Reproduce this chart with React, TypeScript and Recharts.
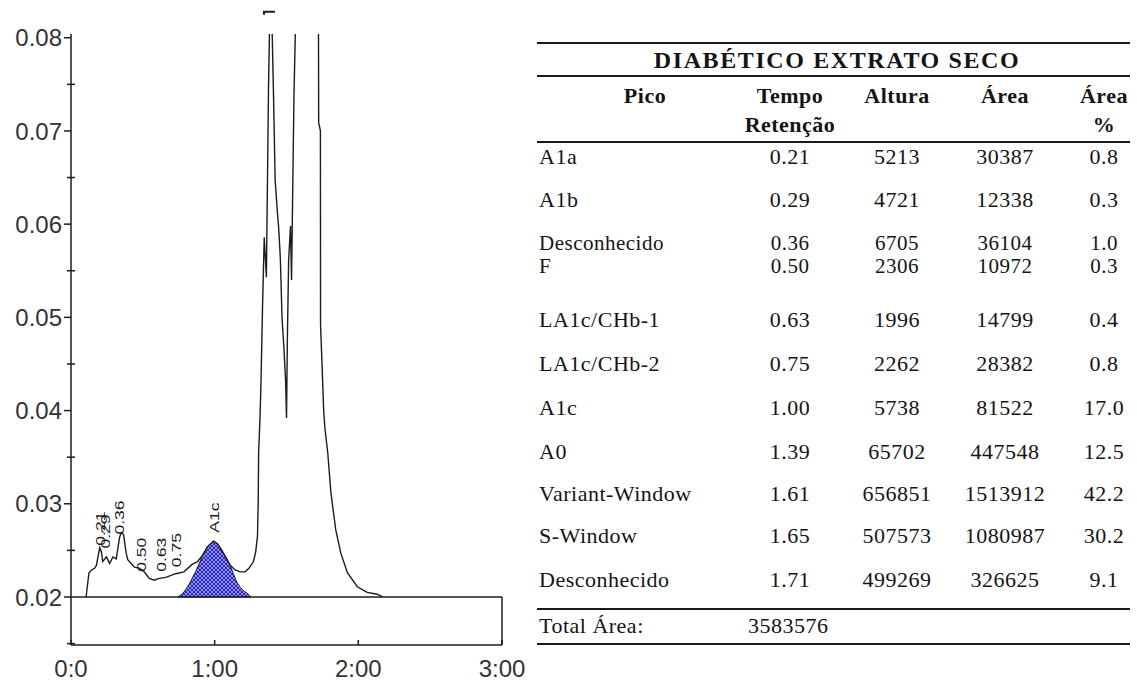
import React from 'react'
import {
  Area,
  ComposedChart,
  Line,
  ReferenceDot,
  ReferenceLine,
  XAxis,
  YAxis,
} from 'recharts'

// chromatogram trace (time in min, absorbance)
const traceTime = [
  0.105, 0.125, 0.143, 0.166, 0.177, 0.2, 0.212, 0.221, 0.246, 0.269, 0.292, 0.315, 0.338, 0.35,
  0.366, 0.384, 0.395, 0.419, 0.441, 0.476, 0.51, 0.545, 0.579, 0.614, 0.66, 0.729, 0.786, 0.843,
  0.88, 0.912, 0.95, 0.993, 1.02, 1.05, 1.08, 1.108, 1.143, 1.177, 1.212, 1.24, 1.27, 1.285, 1.298,
  1.303, 1.306, 1.315, 1.322, 1.333, 1.345, 1.36, 1.375, 1.39, 1.41, 1.421, 1.437, 1.446, 1.457,
  1.469, 1.481, 1.494, 1.5, 1.506, 1.515, 1.528, 1.535, 1.552, 1.561, 1.61, 1.65, 1.71, 1.722,
  1.724, 1.736, 1.737, 1.747, 1.759, 1.768, 1.787, 1.809, 1.843, 1.878, 1.924, 1.993, 2.062, 2.131,
  2.17,
]
const traceSignal = [
  0.0200, 0.0226, 0.0229, 0.0231, 0.0234, 0.0253, 0.0248, 0.0238, 0.0243, 0.0236, 0.0243, 0.0241,
  0.0264, 0.0269, 0.0267, 0.0247, 0.0240, 0.0236, 0.0232, 0.0231, 0.0227, 0.0220, 0.0218, 0.0220,
  0.0221, 0.0225, 0.0227, 0.0235, 0.0238, 0.0244, 0.0254, 0.0260, 0.0257, 0.0250, 0.0242, 0.0234,
  0.0229, 0.0227, 0.0227, 0.0231, 0.0238, 0.0248, 0.0265, 0.0300, 0.0355, 0.0390, 0.0427, 0.0510,
  0.0586, 0.0543, 0.0749, 0.0880, 0.0736, 0.0647, 0.0612, 0.0595, 0.0564, 0.0499, 0.0470, 0.0431,
  0.0392, 0.0476, 0.0562, 0.0598, 0.0540, 0.0738, 0.0802, 0.7000, 0.5400, 0.5200, 0.0850, 0.0709,
  0.0700, 0.0492, 0.0451, 0.0399, 0.0380, 0.0355, 0.0312, 0.0272, 0.0247, 0.0226, 0.0211, 0.0205,
  0.0203, 0.0200,
]

// integrated A1c peak (hatched)
const a1cTime = [
  0.745, 0.78, 0.82, 0.867, 0.912, 0.95, 0.993, 1.02, 1.05, 1.08, 1.108, 1.13, 1.154, 1.18, 1.2,
  1.234, 1.25,
]
const a1cSignal = [
  0.0200, 0.0204, 0.0213, 0.0227, 0.0243, 0.0254, 0.0260, 0.0257, 0.0250, 0.0242, 0.0234, 0.0225,
  0.0216, 0.0210, 0.0207, 0.0203, 0.0200,
]

const peakLabels = ['0.21', '0.29', '0.36', '0.50', '0.63', '0.75', 'A1c']
const peakLabelTime = [0.2, 0.239, 0.338, 0.487, 0.625, 0.73, 1.0]
const peakLabelSignal = [0.0255, 0.0252, 0.0267, 0.0227, 0.0227, 0.0232, 0.0269]

// off-scale marker above the A0 peak
const offScaleTime = 1.385
const offScaleSignal = 0.0828

const yMajorTicks = [0.02, 0.03, 0.04, 0.05, 0.06, 0.07, 0.08]
const yMinorTicks = [0.015, 0.025, 0.035, 0.045, 0.055, 0.065, 0.075]
const xTicks = [0, 1, 2, 3]
const xTickLabels = ['0:0', '1:00', '2:00', '3:00']

// peak table
const tableTitle = 'DIABÉTICO EXTRATO SECO'
const peakNames = [
  'A1a', 'A1b', 'Desconhecido', 'F', 'LA1c/CHb-1', 'LA1c/CHb-2', 'A1c', 'A0', 'Variant-Window',
  'S-Window', 'Desconhecido',
]
const retentionTimes = ['0.21', '0.29', '0.36', '0.50', '0.63', '0.75', '1.00', '1.39', '1.61', '1.65', '1.71']
const peakHeights = [5213, 4721, 6705, 2306, 1996, 2262, 5738, 65702, 656851, 507573, 499269]
const peakAreas = [30387, 12338, 36104, 10972, 14799, 28382, 81522, 447548, 1513912, 1080987, 326625]
const areaPercent = ['0.8', '0.3', '1.0', '0.3', '0.4', '0.8', '17.0', '12.5', '42.2', '30.2', '9.1']
const totalArea = 3583576

const BASELINE = 0.02
const INK = '#1c1c1c'
const SANS = '"Liberation Sans", Arial, sans-serif'
const SERIF = '"Liberation Serif", "Times New Roman", serif'

type Row = { t: number; trace?: number; a1c?: [number, number] }

function buildRows(): Row[] {
  const rows = new Map<number, Row>()
  traceTime.forEach((t, i) => {
    rows.set(t, { ...(rows.get(t) ?? { t }), trace: traceSignal[i] })
  })
  a1cTime.forEach((t, i) => {
    rows.set(t, { ...(rows.get(t) ?? { t }), a1c: [BASELINE, a1cSignal[i]] })
  })
  return [...rows.values()].sort((a, b) => a.t - b.t)
}

function YTick({ x, y, payload }: any) {
  const v = payload.value
  const major = yMajorTicks.some((m) => Math.abs(m - v) < 1e-6)
  if (!major) {
    return <line x1={x - 4} x2={x + 4} y1={y} y2={y} stroke={INK} strokeWidth={1.5} />
  }
  return (
    <g>
      <line x1={x - 7} x2={x} y1={y} y2={y} stroke={INK} strokeWidth={1.5} />
      <text x={x - 9} y={y} dy="0.36em" textAnchor="end" fontSize={24} fill="#333" fontFamily={SANS}>
        {v.toFixed(2)}
      </text>
    </g>
  )
}

function XTick({ x, y, payload }: any) {
  const i = xTicks.indexOf(payload.value)
  return (
    <g>
      <line x1={x} x2={x} y1={y - 5} y2={y} stroke={INK} strokeWidth={1.5} />
      <text x={x} y={y + 32} textAnchor="middle" fontSize={24} fill="#333" fontFamily={SANS}>
        {xTickLabels[i]}
      </text>
    </g>
  )
}

function Chromatogram() {
  const rows = buildRows()
  return (
    <ComposedChart width={540} height={688} data={rows} margin={{ top: 34, right: 38, bottom: 0, left: 0 }}>
      <defs>
        <pattern id="a1cHatch" width="4" height="4" patternUnits="userSpaceOnUse">
          <rect width="4" height="4" fill="#2525d2" />
          <path d="M0,0 L4,4 M4,0 L0,4" stroke="#dcdcff" strokeWidth="0.6" />
        </pattern>
      </defs>
      <XAxis
        type="number"
        dataKey="t"
        domain={[0, 3]}
        ticks={xTicks}
        interval={0}
        allowDataOverflow
        height={43}
        tickSize={0}
        tickMargin={0}
        tick={<XTick />}
        axisLine={{ stroke: INK, strokeWidth: 1.5 }}
      />
      <YAxis
        type="number"
        domain={[0.01485, 0.0804]}
        ticks={[...yMinorTicks, ...yMajorTicks].sort((a, b) => a - b)}
        interval={0}
        allowDataOverflow
        width={71}
        tickSize={0}
        tickMargin={0}
        tick={<YTick />}
        axisLine={{ stroke: INK, strokeWidth: 1.5 }}
      />
      <ReferenceLine y={BASELINE} stroke={INK} strokeWidth={1.3} />
      <ReferenceLine
        segment={[
          { x: 3, y: 0.01485 },
          { x: 3, y: BASELINE },
        ]}
        stroke={INK}
        strokeWidth={1.5}
      />
      <Area
        dataKey="a1c"
        type="linear"
        connectNulls
        fill="url(#a1cHatch)"
        fillOpacity={1}
        stroke={INK}
        strokeWidth={1}
        dot={false}
        activeDot={false}
        isAnimationActive={false}
      />
      <Line
        dataKey="trace"
        type="linear"
        connectNulls
        stroke={INK}
        strokeWidth={1.4}
        dot={false}
        activeDot={false}
        isAnimationActive={false}
      />
      {peakLabels.map((label, i) => (
        <ReferenceDot
          key={label + i}
          x={peakLabelTime[i]}
          y={peakLabelSignal[i]}
          r={0}
          ifOverflow="visible"
          shape={(p: any) => (
            <text
              transform={`translate(${p.cx + 4.8},${p.cy}) rotate(-90) scale(1.3,1)`}
              fontSize={13.5}
              fill={INK}
              fontFamily={SANS}
            >
              {label}
            </text>
          )}
        />
      ))}
      <ReferenceDot
        x={offScaleTime}
        y={offScaleSignal}
        r={0}
        ifOverflow="visible"
        shape={(p: any) => (
          <path
            d={`M${p.cx - 6},${p.cy + 3} V${p.cy} H${p.cx + 5}`}
            fill="none"
            stroke={INK}
            strokeWidth={2}
          />
        )}
      />
    </ComposedChart>
  )
}

const colCenters = [790, 897, 1005, 1104]
const rowCenters = [157, 200, 243, 266, 320, 364, 408, 452, 494, 536, 580]
const rowSizes = [22, 22, 21, 21, 22, 22, 22, 22, 22, 22, 22]

function Txt({
  x,
  y,
  center,
  bold,
  size = 22,
  spacing = 0.5,
  children,
}: {
  x: number
  y: number
  center?: boolean
  bold?: boolean
  size?: number
  spacing?: number
  children: React.ReactNode
}) {
  const lh = 18
  return (
    <div
      style={{
        position: 'absolute',
        left: center ? x - 300 : x,
        width: center ? 600 : undefined,
        top: y - lh / 2,
        height: lh,
        lineHeight: `${lh}px`,
        fontSize: size,
        fontWeight: bold ? 700 : 400,
        letterSpacing: spacing,
        textAlign: center ? 'center' : 'left',
        whiteSpace: 'nowrap',
        fontFamily: SERIF,
        color: '#141414',
      }}
    >
      {children}
    </div>
  )
}

function Rule({ y, h = 2 }: { y: number; h?: number }) {
  return <div style={{ position: 'absolute', left: 537, width: 593, top: y, height: h, background: '#1a1a1a' }} />
}

function PeakTable() {
  return (
    <>
      <Rule y={42} />
      <Txt x={837} y={60} center bold size={24} spacing={1.6}>
        {tableTitle}
      </Txt>
      <Rule y={75} />
      <Txt x={645} y={96} center bold>Pico</Txt>
      <Txt x={colCenters[0]} y={96} center bold>Tempo</Txt>
      <Txt x={colCenters[0]} y={125} center bold>Retenção</Txt>
      <Txt x={colCenters[1]} y={96} center bold>Altura</Txt>
      <Txt x={colCenters[2]} y={96} center bold>Área</Txt>
      <Txt x={colCenters[3]} y={96} center bold>Área</Txt>
      <Txt x={colCenters[3]} y={125} center bold>%</Txt>
      <Rule y={141} />
      {peakNames.map((name, i) => (
        <React.Fragment key={name + i}>
          <Txt x={539} y={rowCenters[i]} size={rowSizes[i]}>{name}</Txt>
          <Txt x={colCenters[0]} y={rowCenters[i]} size={rowSizes[i]} center>{retentionTimes[i]}</Txt>
          <Txt x={colCenters[1]} y={rowCenters[i]} size={rowSizes[i]} center>{peakHeights[i]}</Txt>
          <Txt x={colCenters[2]} y={rowCenters[i]} size={rowSizes[i]} center>{peakAreas[i]}</Txt>
          <Txt x={colCenters[3]} y={rowCenters[i]} size={rowSizes[i]} center>{areaPercent[i]}</Txt>
        </React.Fragment>
      ))}
      <Rule y={608} h={1.5} />
      <Txt x={539} y={626}>Total Área:</Txt>
      <Txt x={748} y={626}>{totalArea}</Txt>
      <Rule y={643} />
    </>
  )
}

export default function App() {
  return (
    <div style={{ position: 'absolute', left: 0, top: 0, width: 1137, height: 688, background: '#fff' }}>
      <div style={{ position: 'absolute', left: 0, top: 0 }}>
        <Chromatogram />
      </div>
      <PeakTable />
    </div>
  )
}
